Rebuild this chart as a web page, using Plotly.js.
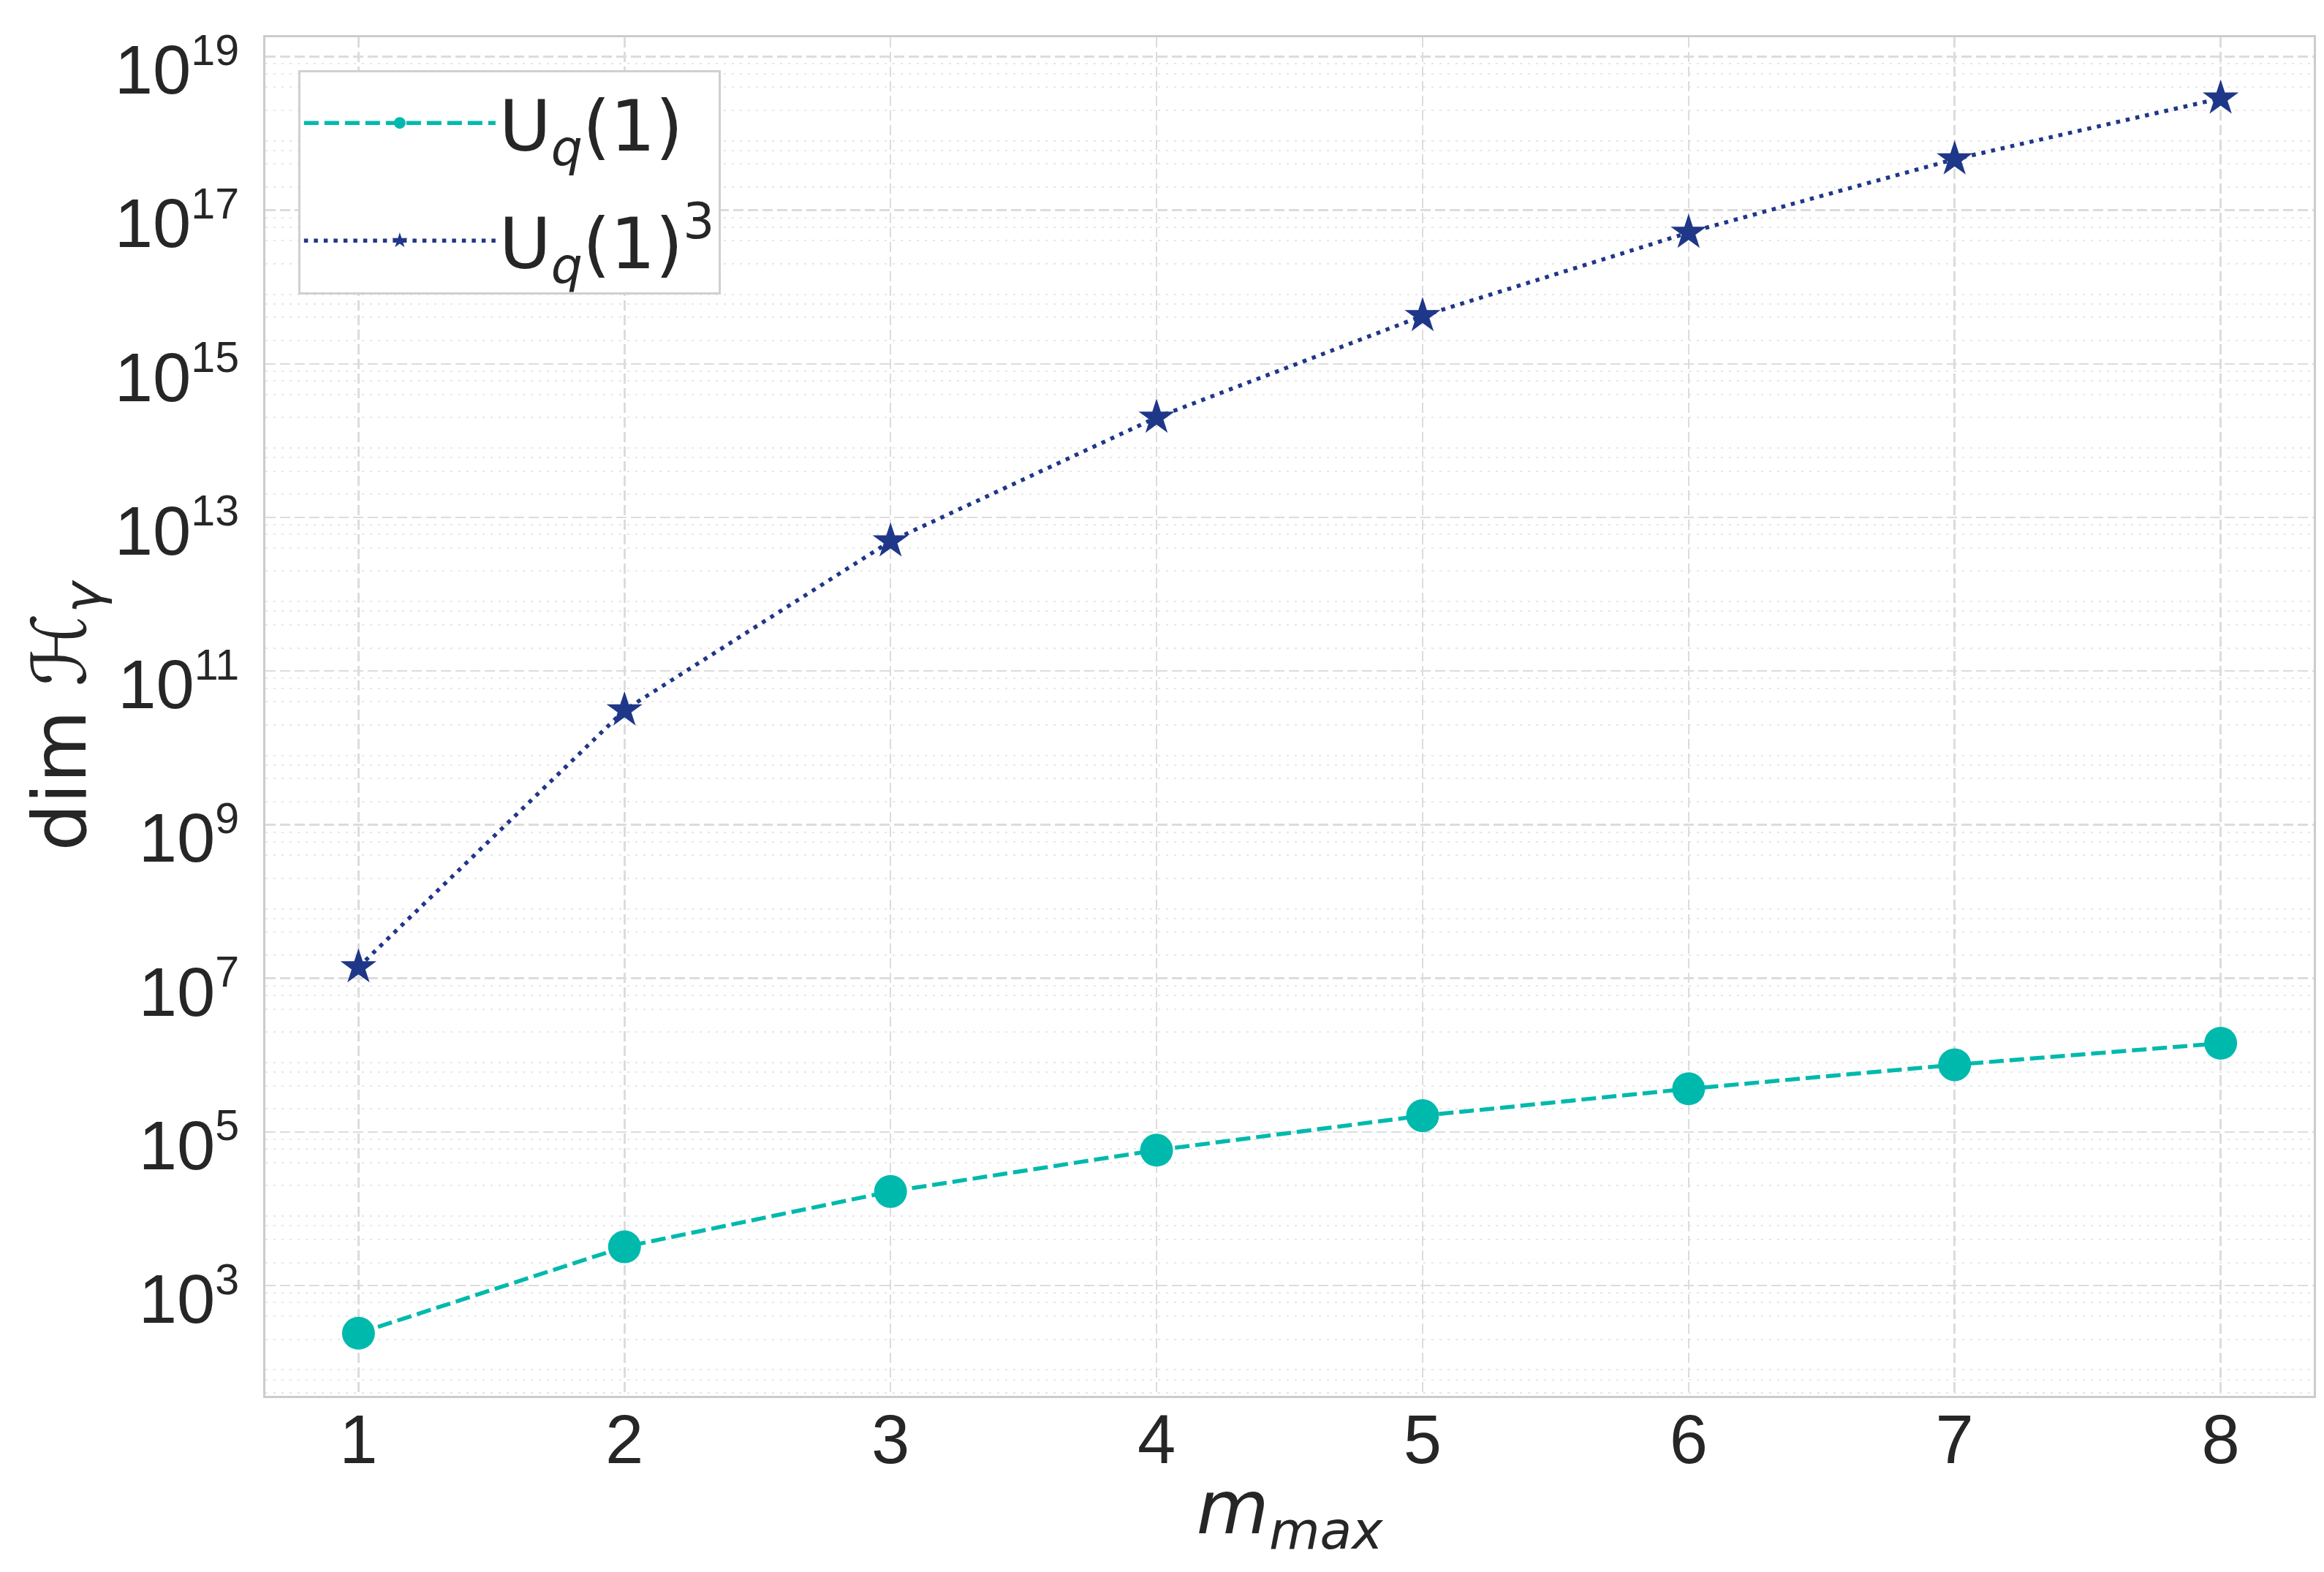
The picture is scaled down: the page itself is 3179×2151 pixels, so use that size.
<!DOCTYPE html>
<html>
<head>
<meta charset="utf-8">
<script src="https://cdn.plot.ly/plotly-3.0.1.min.js"></script>
<style>
html, body { margin: 0; padding: 0; background: #ffffff; }
#chart { width: 3179px; height: 2151px; }
</style>
</head>
<body>
<div id="chart"></div>
<script>
// values
const m_max = [1, 2, 3, 4, 5, 6, 7, 8];
const dim_u1 = [240, 3200, 16800, 58000, 163000, 365000, 750000, 1430000];
const dim_u1_cubed = [1.4e7, 3.1e10, 4.9e12, 2.0e14, 4.2e15, 5.1e16, 4.6e17, 2.85e18];
const y_tick_exps = [3, 5, 7, 9, 11, 13, 15, 17, 19];
const minor_subs = [2, 4, 6, 8];

const CYAN = "#00b9ad";
const NAVY = "#1f3788";
const TEXT = "#262626";
const GRID = "#dcdcdc";
const MINOR_GRID = "#e6e6e6";
const TICK_FONT = "Liberation Sans, Arial, sans-serif";
const MATH_FONT = "DejaVu Sans, sans-serif";

const y_tickvals = y_tick_exps.map(e => Math.pow(10, e));
const y_ticktext = y_tick_exps.map(e => "10<sup><span style=\"font-size:90%\">" + e + "</span></sup>");

let minor_vals = [];
for (let e = 1; e <= 19; e++) {
	for (const s of minor_subs) {
		minor_vals.push(s * Math.pow(10, e));
	}
}

var data = [
	{
		type: "scatter",
		name: "U<sub><i>q</i></sub>(1)",
		legendgroup: "a",
		x: m_max,
		y: dim_u1,
		mode: "lines+markers",
		line: { color: CYAN, width: 5.5, dash: "20px,8px" },
		marker: { symbol: "circle", size: 45, color: CYAN },
	},
	{
		type: "scatter",
		name: "U<sub><i>q</i></sub>(1)<sup>3</sup>",
		legendgroup: "b",
		x: m_max,
		y: dim_u1_cubed,
		mode: "lines+markers",
		line: { color: NAVY, width: 5.5, dash: "5.5px,8px" },
		marker: { symbol: "star", size: 37, color: NAVY },
	},
];

var layout = {
	width: 3179,
	height: 2151,
	margin: { l: 363, r: 14, t: 51, b: 241 },
	paper_bgcolor: "#ffffff",
	plot_bgcolor: "#ffffff",
	showlegend: true,
	legend: {
		x: 0.016,
		y: 0.976,
		xanchor: "left",
		yanchor: "top",
		bgcolor: "#ffffff",
		bordercolor: "#d0d0d0",
		borderwidth: 3,
		font: { family: MATH_FONT, size: 97, color: TEXT },
		itemwidth: 262,
		tracegroupgap: 32,
	},
	xaxis: {
		range: [0.65, 8.35],
		tickvals: m_max,
		ticks: "",
		ticklabelstandoff: -24,
		tickfont: { family: TICK_FONT, size: 94, color: TEXT },
		showgrid: true,
		gridcolor: GRID,
		gridwidth: 2.5,
		griddash: "14px,6px",
		zeroline: false,
		showline: true,
		mirror: true,
		linecolor: "#cccccc",
		linewidth: 3,
		title: {
			text: "<i>m</i><sub><i>max</i></sub>",
			font: { family: MATH_FONT, size: 102, color: TEXT },
			standoff: 6,
		},
	},
	yaxis: {
		type: "log",
		range: [1.565, 19.25],
		tickvals: y_tickvals,
		ticktext: y_ticktext,
		ticks: "",
		ticklabelstandoff: 14,
		ticklabelshift: 18,
		tickfont: { family: TICK_FONT, size: 94, color: TEXT },
		showgrid: true,
		gridcolor: GRID,
		gridwidth: 2.5,
		griddash: "14px,6px",
		zeroline: false,
		showline: true,
		mirror: true,
		linecolor: "#cccccc",
		linewidth: 3,
		minor: {
			tickvals: minor_vals,
			ticks: "",
			showgrid: true,
			gridcolor: MINOR_GRID,
			gridwidth: 2,
			griddash: "3px,8px",
		},
		title: {
			text: "dim <i>ℋ</i><sub><i>γ</i></sub>",
			font: { family: MATH_FONT, size: 102, color: TEXT },
			standoff: 6,
		},
	},
};

Plotly.newPlot("chart", data, layout, { displayModeBar: false, staticPlot: true });
</script>
</body>
</html>
